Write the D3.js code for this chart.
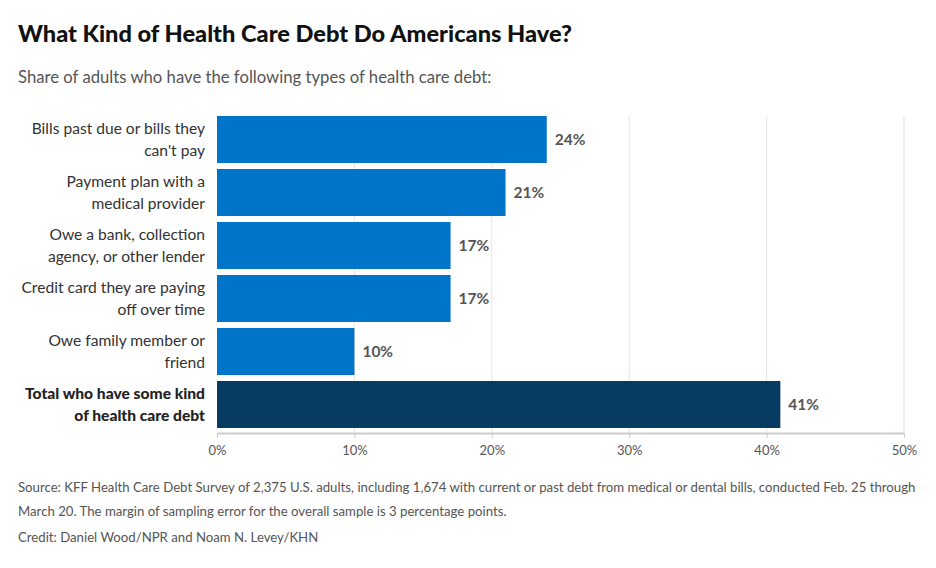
<!DOCTYPE html>
<html><head><meta charset="utf-8">
<script src="https://cdn.jsdelivr.net/npm/d3@7"></script>
<style>
body{margin:0;background:#fff;font-family:Lato,"Noto Sans",sans-serif;}
svg{display:block}
</style></head><body>
<svg id="c" width="936" height="568"></svg>
<script>
const categories = [
  ["Bills past due or bills they","can't pay"],
  ["Payment plan with a","medical provider"],
  ["Owe a bank, collection","agency, or other lender"],
  ["Credit card they are paying","off over time"],
  ["Owe family member or","friend"],
  ["Total who have some kind","of health care debt"]
];
const values = [24, 21, 17, 17, 10, 41];
const highlight = [false, false, false, false, false, true];
const tickValues = [0, 10, 20, 30, 40, 50];

const svg = d3.select("#c");
const font = "Lato, 'Noto Sans', sans-serif";

svg.append("text").attr("x",18).attr("y",42).text("What Kind of Health Care Debt Do Americans Have?")
  .attr("font-family",font).attr("font-weight",900).attr("font-size",23.6).attr("fill","#111");
svg.append("text").attr("x",18).attr("y",83).text("Share of adults who have the following types of health care debt:")
  .attr("font-family",font).attr("font-size",16.7).attr("fill","#555");

const x = d3.scaleLinear().domain([0,50]).range([217,904]);
const y = d3.scaleBand().domain(d3.range(values.length)).range([116,428]).paddingInner(0.113).paddingOuter(0).align(0);

// gridlines
svg.append("g").selectAll("line").data(tickValues.slice(1)).join("line")
  .attr("x1",d=>x(d)).attr("x2",d=>x(d)).attr("y1",116).attr("y2",433)
  .attr("stroke","#e4e4e4").attr("stroke-width",1);

// axis
const axisG = svg.append("g").attr("transform","translate(0,433)")
  .call(d3.axisBottom(x).tickValues(tickValues).tickFormat(d=>d+"%").tickSize(5).tickSizeOuter(0));
axisG.select(".domain").attr("stroke","#ccc").attr("stroke-width",2);
axisG.selectAll(".tick line").attr("stroke","#ccc");
axisG.selectAll(".tick text").attr("font-family",font).attr("font-size",13).attr("fill","#555").attr("dy","1.05em");

// bars
svg.append("g").selectAll("rect").data(values).join("rect")
  .attr("x",x(0)).attr("y",(d,i)=>y(i)).attr("width",d=>x(d)-x(0)).attr("height",y.bandwidth())
  .attr("fill",(d,i)=>highlight[i]?"#073b61":"#0074c8");

// value labels
svg.append("g").selectAll("text").data(values).join("text")
  .attr("x",d=>x(d)+8).attr("y",(d,i)=>y(i)+y.bandwidth()/2).attr("dy","0.35em")
  .text(d=>d+"%").attr("font-family",font).attr("font-weight",700).attr("font-size",15.5).attr("fill","#555");

// category labels
const lab = svg.append("g").selectAll("text").data(categories).join("text")
  .attr("text-anchor","end").attr("font-family",font).attr("font-size",15.6)
  .attr("font-weight",(d,i)=>highlight[i]?900:400)
  .attr("fill",(d,i)=>highlight[i]?"#222":"#333");
lab.each(function(d,i){
  const t=d3.select(this);
  const cy=y(i)+y.bandwidth()/2;
  d.forEach((line,k)=>{
    t.append("tspan").attr("x",205).attr("y",cy+(k-(d.length-1)/2)*21.5).attr("dy","0.35em").text(line);
  });
});

// footer
const foot = [
  ["Source: KFF Health Care Debt Survey of 2,375 U.S. adults, including 1,674 with current or past debt from medical or dental bills, conducted Feb. 25 through",492],
  ["March 20. The margin of sampling error for the overall sample is 3 percentage points.",516],
  ["Credit: Daniel Wood/NPR and Noam N. Levey/KHN",542]
];
svg.append("g").selectAll("text").data(foot).join("text")
  .attr("x",18).attr("y",d=>d[1]).text(d=>d[0])
  .attr("font-family",font).attr("font-size",13.2).attr("fill","#555");
</script>
</body></html>
